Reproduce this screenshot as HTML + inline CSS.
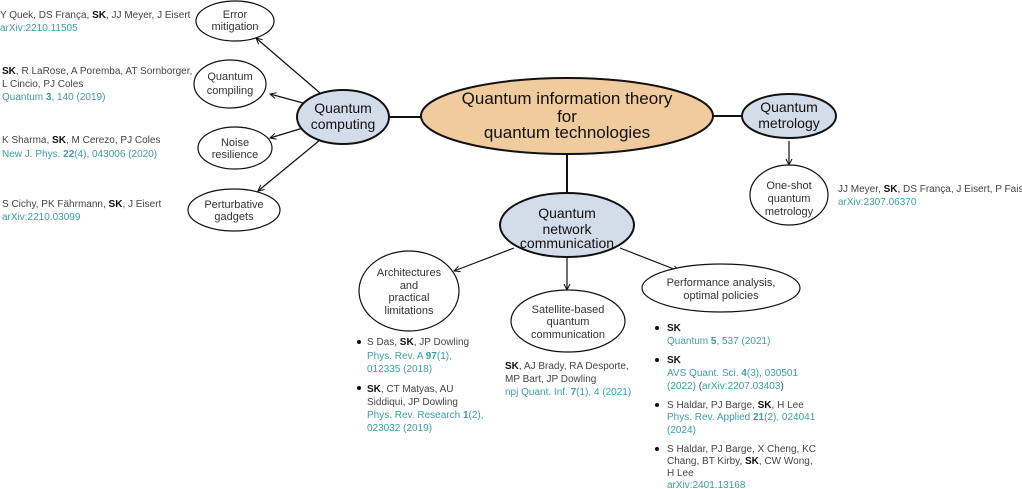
<!DOCTYPE html>
<html><head><meta charset="utf-8"><style>
html,body{margin:0;padding:0;background:#fff;}
svg{display:block;}
text{font-family:"Liberation Sans","DejaVu Sans",sans-serif;}
.r{font-size:10px;fill:#444;}
.l{font-size:10px;fill:#3a9ea6;}
.n{font-size:11px;fill:#333;text-anchor:middle;}
.b{font-size:14px;fill:#111;text-anchor:middle;}
</style></head><body>
<svg width="1022" height="489" viewBox="0 0 1022 489">
<defs><marker id="a" markerWidth="8" markerHeight="8" refX="7" refY="4" orient="auto" markerUnits="userSpaceOnUse"><path d="M1,1 L7,4 L1,7" fill="none" stroke="#111" stroke-width="1"/></marker></defs>
<g stroke="#111" fill="none">
<line x1="389" y1="117" x2="421" y2="117" stroke-width="2"/>
<line x1="714" y1="116" x2="742" y2="116" stroke-width="2"/>
<line x1="567" y1="154" x2="567" y2="193" stroke-width="2"/>
<g stroke-width="1.2" marker-end="url(#a)">
<line x1="320" y1="93" x2="256" y2="38"/>
<line x1="303" y1="103" x2="270" y2="94"/>
<line x1="303" y1="128" x2="270" y2="138"/>
<line x1="320" y1="140" x2="258" y2="191"/>
<line x1="789" y1="141" x2="789" y2="165"/>
<line x1="514" y1="248" x2="454" y2="271"/>
<line x1="567" y1="258" x2="567" y2="290"/>
<line x1="620" y1="248" x2="679" y2="271"/>
</g>
</g>
<g stroke="#111" stroke-width="1.2">
<ellipse cx="567" cy="116" rx="146" ry="38" fill="#f0cb9d" stroke-width="2"/>
<ellipse cx="343" cy="117" rx="46" ry="27" fill="#d3dde9" stroke-width="2"/>
<ellipse cx="789" cy="116" rx="47" ry="22" fill="#d3dde9" stroke-width="2"/>
<ellipse cx="567" cy="225" rx="67" ry="32" fill="#d3dde9" stroke-width="2"/>
<ellipse cx="235" cy="21" rx="39" ry="20" fill="#fff"/>
<ellipse cx="230" cy="84" rx="36" ry="24" fill="#fff"/>
<ellipse cx="235" cy="148" rx="37" ry="21" fill="#fff"/>
<ellipse cx="234" cy="210" rx="46" ry="21" fill="#fff"/>
<ellipse cx="789" cy="195" rx="39" ry="30" fill="#fff"/>
<ellipse cx="409" cy="291" rx="50" ry="40" fill="#fff"/>
<ellipse cx="568" cy="321" rx="57" ry="31" fill="#fff"/>
<ellipse cx="721" cy="288" rx="79" ry="24" fill="#fff"/>
</g>
<text class="b" style="font-size:17px"><tspan x="567" y="104">Quantum information theory</tspan><tspan x="567" y="122">for</tspan><tspan x="567" y="138">quantum technologies</tspan></text>
<text class="b"><tspan x="343" y="113">Quantum</tspan><tspan x="343" y="129">computing</tspan></text>
<text class="b"><tspan x="789" y="112">Quantum</tspan><tspan x="789" y="128">metrology</tspan></text>
<text class="b"><tspan x="567" y="218">Quantum</tspan><tspan x="567" y="234">network</tspan><tspan x="567" y="248">communication</tspan></text>
<text class="n"><tspan x="235" y="18">Error</tspan><tspan x="235" y="30">mitigation</tspan></text>
<text class="n"><tspan x="230" y="80">Quantum</tspan><tspan x="230" y="94">compiling</tspan></text>
<text class="n"><tspan x="235" y="146">Noise</tspan><tspan x="235" y="158">resilience</tspan></text>
<text class="n"><tspan x="234" y="208">Perturbative</tspan><tspan x="234" y="220">gadgets</tspan></text>
<text class="n"><tspan x="789" y="189">One-shot</tspan><tspan x="789" y="202">quantum</tspan><tspan x="789" y="215">metrology</tspan></text>
<text class="n"><tspan x="409" y="276">Architectures</tspan><tspan x="409" y="289">and</tspan><tspan x="409" y="301">practical</tspan><tspan x="409" y="314">limitations</tspan></text>
<text class="n"><tspan x="568" y="313">Satellite-based</tspan><tspan x="568" y="325">quantum</tspan><tspan x="568" y="338">communication</tspan></text>
<text class="n"><tspan x="721" y="286">Performance analysis,</tspan><tspan x="721" y="299">optimal policies</tspan></text>

<text class="r" x="0" y="18">Y Quek, DS França, <tspan fill="#111" font-weight="bold">SK</tspan>, JJ Meyer, J Eisert</text>
<text class="l" x="0" y="31">arXiv:2210.11505</text>
<text class="r" x="2" y="74"><tspan fill="#111" font-weight="bold">SK</tspan>, R LaRose, A Poremba, AT Sornborger,</text>
<text class="r" x="2" y="87">L Cincio, PJ Coles</text>
<text class="l" x="2" y="100">Quantum <tspan font-weight="bold">3</tspan>, 140 (2019)</text>
<text class="r" x="2" y="143">K Sharma, <tspan fill="#111" font-weight="bold">SK</tspan>, M Cerezo, PJ Coles</text>
<text class="l" x="2" y="157">New J. Phys. <tspan font-weight="bold">22</tspan>(4), 043006 (2020)</text>
<text class="r" x="2" y="207">S Cichy, PK Fährmann, <tspan fill="#111" font-weight="bold">SK</tspan>, J Eisert</text>
<text class="l" x="2" y="220">arXiv:2210.03099</text>
<text class="r" x="838" y="192">JJ Meyer, <tspan fill="#111" font-weight="bold">SK</tspan>, DS França, J Eisert, P Faist</text>
<text class="l" x="838" y="205">arXiv:2307.06370</text>

<g fill="#111"><circle cx="359" cy="342" r="2"/><circle cx="359" cy="388" r="2"/>
<circle cx="657" cy="328" r="2"/><circle cx="657" cy="360" r="2"/><circle cx="657" cy="405" r="2"/><circle cx="657" cy="449" r="2"/></g>
<text class="r" x="367" y="345">S Das, <tspan fill="#111" font-weight="bold">SK</tspan>, JP Dowling</text>
<text class="l" x="367" y="359">Phys. Rev. A <tspan font-weight="bold">97</tspan>(1),</text>
<text class="l" x="367" y="372">012335 (2018)</text>
<text class="r" x="367" y="392"><tspan fill="#111" font-weight="bold">SK</tspan>, CT Matyas, AU</text>
<text class="r" x="367" y="405">Siddiqui, JP Dowling</text>
<text class="l" x="367" y="418">Phys. Rev. Research <tspan font-weight="bold">1</tspan>(2),</text>
<text class="l" x="367" y="431">023032 (2019)</text>
<text class="r" x="505" y="369"><tspan fill="#111" font-weight="bold">SK</tspan>, AJ Brady, RA Desporte,</text>
<text class="r" x="505" y="382">MP Bart, JP Dowling</text>
<text class="l" x="505" y="395">npj Quant. Inf. <tspan font-weight="bold">7</tspan>(1), 4 (2021)</text>
<text class="r" x="667" y="331"><tspan fill="#111" font-weight="bold">SK</tspan></text>
<text class="l" x="667" y="344">Quantum <tspan font-weight="bold">5</tspan>, 537 (2021)</text>
<text class="r" x="667" y="363"><tspan fill="#111" font-weight="bold">SK</tspan></text>
<text class="l" x="667" y="376">AVS Quant. Sci. <tspan font-weight="bold">4</tspan>(3), 030501</text>
<text class="l" x="667" y="389">(2022) <tspan fill="#444">(</tspan>arXiv:2207.03403<tspan fill="#444">)</tspan></text>
<text class="r" x="667" y="408">S Haldar, PJ Barge, <tspan fill="#111" font-weight="bold">SK</tspan>, H Lee</text>
<text class="l" x="667" y="420">Phys. Rev. Applied <tspan font-weight="bold">21</tspan>(2), 024041</text>
<text class="l" x="667" y="433">(2024)</text>
<text class="r" x="667" y="452">S Haldar, PJ Barge, X Cheng, KC</text>
<text class="r" x="667" y="464">Chang, BT Kirby, <tspan fill="#111" font-weight="bold">SK</tspan>, CW Wong,</text>
<text class="r" x="667" y="476">H Lee</text>
<text class="l" x="667" y="488">arXiv:2401.13168</text>
</svg>
</body></html>
